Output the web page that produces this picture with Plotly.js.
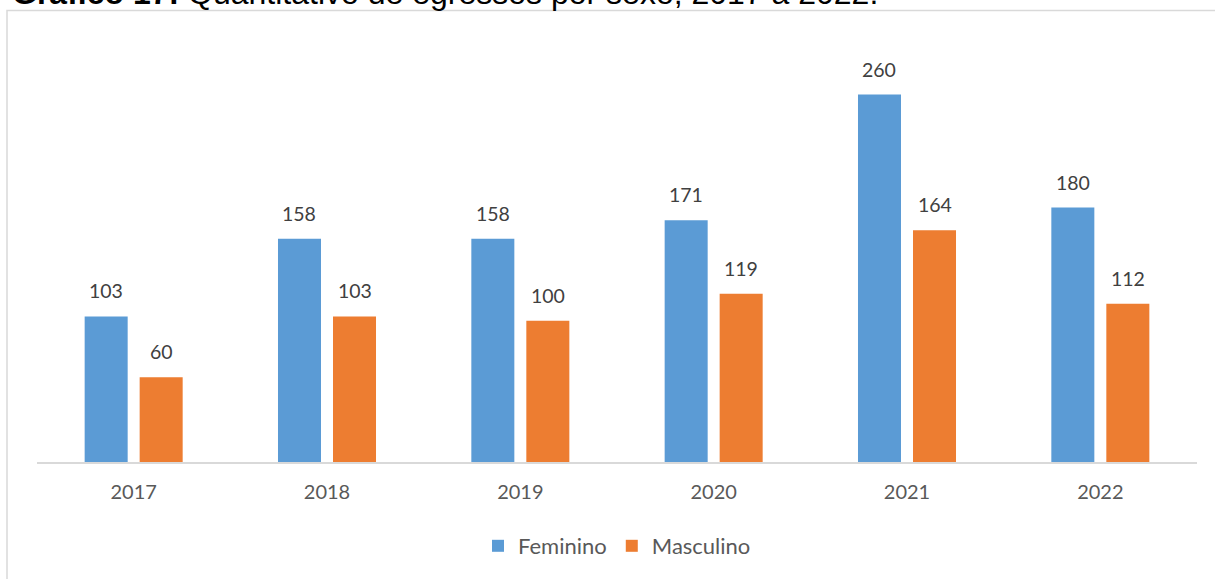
<!DOCTYPE html>
<html>
<head>
<meta charset="utf-8">
<script src="https://cdn.plot.ly/plotly-3.0.1.min.js"></script>
<style>html,body{margin:0;padding:0;background:#fff;}#chart{width:1215px;height:579px;}</style>
</head>
<body>
<div id="chart"></div>
<script>
const years = ['2017', '2018', '2019', '2020', '2021', '2022'];
const feminino = [103, 158, 158, 171, 260, 180];
const masculino = [60, 103, 100, 119, 164, 112];
const seriesNames = ['Feminino', 'Masculino'];
const titleText = '<b>Gráfico 17:</b> Quantitativo de egressos por sexo, 2017 a 2022.';

const W = 1215, H = 579;
const M = {l: 37, r: 18, t: 38, b: 117};
const plotW = W - M.l - M.r, plotH = H - M.t - M.b;
const bargap = 0.431;
const slot = plotW / years.length * (1 - bargap) / 2;

const px2x = p => (p - M.l) / plotW;
const px2y = p => (H - M.b - p) / plotH;

const traces = [
  {type: 'bar', name: seriesNames[0], x: years, y: feminino, marker: {color: '#5B9BD5'}, hoverinfo: 'x+y+name'},
  {type: 'bar', name: seriesNames[1], x: years, y: masculino, marker: {color: '#ED7D31'}, hoverinfo: 'x+y+name'}
];

const annotations = [];
[feminino, masculino].forEach((vals, si) => {
  vals.forEach((v, i) => {
    annotations.push({
      x: i, y: v, xref: 'x', yref: 'y', text: String(v), showarrow: false,
      xanchor: 'center', yanchor: 'bottom', xshift: (si === 0 ? -1 : 1) * slot / 2, yshift: 12,
      font: {family: 'Lato, Carlito, sans-serif', size: 19.5, color: '#404040'}
    });
  });
});
annotations.push({
  x: px2x(10), y: px2y(-7), xref: 'paper', yref: 'paper', text: titleText, showarrow: false,
  xanchor: 'left', yanchor: 'middle',
  font: {family: 'Liberation Sans, Arial, sans-serif', size: 32, color: '#000000'}
});

const layout = {
  width: W, height: H,
  margin: M,
  paper_bgcolor: '#ffffff', plot_bgcolor: '#ffffff',
  barmode: 'group', bargap: bargap, bargroupgap: 0.218,
  showlegend: true,
  xaxis: {
    type: 'category', showline: true, linecolor: '#d9d9d9', linewidth: 1.8,
    showgrid: false, zeroline: false, ticks: '', ticklabelstandoff: 11,
    tickfont: {family: 'Lato, Carlito, sans-serif', size: 20, color: '#595959'}
  },
  yaxis: {
    range: [0, 300], visible: false, showgrid: false, zeroline: false, fixedrange: true
  },
  legend: {
    orientation: 'h', x: 0.5, xanchor: 'center', y: px2y(546), yanchor: 'middle',
    font: {family: 'Lato, Carlito, sans-serif', size: 22, color: '#595959'},
    itemwidth: 30, tracegroupgap: 0
  },
  annotations: annotations,
  shapes: [
    {type: 'rect', xref: 'paper', yref: 'paper', x0: px2x(7), x1: px2x(1230), y0: px2y(600), y1: px2y(10.5),
     line: {color: '#d9d9d9', width: 1.5}, fillcolor: 'rgba(0,0,0,0)', layer: 'below'}
  ]
};

Plotly.newPlot('chart', traces, layout, {displayModeBar: false, staticPlot: true});
</script>
</body>
</html>
